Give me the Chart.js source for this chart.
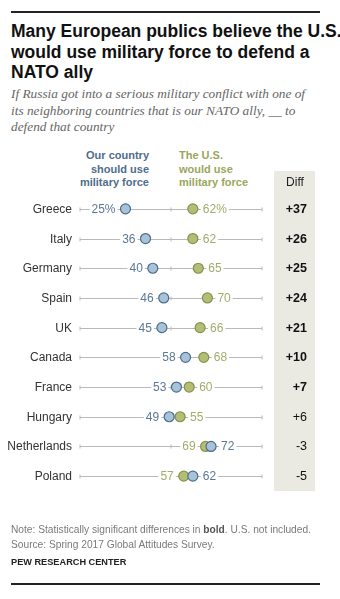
<!DOCTYPE html>
<html lang="en">
<head>
  <meta charset="UTF-8">
  <title>NATO ally defense</title>
  <script src="https://cdn.jsdelivr.net/npm/chart.js"></script>
  <style>
    body { margin: 0; background: #fff; font-family: "Liberation Sans", Arial, sans-serif; }
    #wrap { position: relative; width: 340px; height: 599px; overflow: hidden; }
    #chart { position: absolute; left: 0; top: 0; }
    .rule { position: absolute; left: 11px; width: 309px; height: 2px; background: #222; }
    .txt { position: absolute; white-space: nowrap; }
    #title { left: 11px; top: 21px; font-weight: bold; line-height: 20.5px; color: #111;
      font-family: "Liberation Sans Narrow", "Arial Narrow", "Liberation Sans", sans-serif; font-size: 17.5px; }
    #sub { left: 11px; top: 86px; font-style: italic; font-size: 13.3px; line-height: 16.5px; color: #666;
      font-family: "Liberation Serif", "DejaVu Serif", serif; }
    .head { top: 149px; font-weight: bold; font-size: 11px; line-height: 13.5px; }
    #hOur { right: 191px; text-align: right; color: #4f6d8c; }
    #hUs { left: 179px; color: #9ba65c; }
    #note { left: 11px; top: 522px; font-size: 10.2px; line-height: 15px; color: #7a7a7a; }
    #note b { color: #555; }
    #pew { left: 11px; top: 557px; font-size: 9.2px; font-weight: bold; color: #222; }
  </style>
</head>
<body>
<div id="wrap">
  <div class="rule" style="top:11px"></div>
  <div id="title" class="txt">Many European publics believe the U.S.<br>would use military force to defend a<br>NATO ally</div>
  <div id="sub" class="txt">If Russia got into a serious military conflict with one of<br>its neighboring countries that is our NATO ally, __ to<br>defend that country</div>
  <div id="hOur" class="txt head">Our country<br>should use<br>military force</div>
  <div id="hUs" class="txt head">The U.S.<br>would use<br>military force</div>
  <canvas id="chart" width="340" height="599"></canvas>
  <div id="note" class="txt">Note: Statistically significant differences in <b>bold</b>. U.S. not included.<br>Source: Spring 2017 Global Attitudes Survey.</div>
  <div id="pew" class="txt">PEW RESEARCH CENTER</div>
  <div class="rule" style="top:583px"></div>
</div>
<script>
  const countries = ['Greece', 'Italy', 'Germany', 'Spain', 'UK', 'Canada', 'France', 'Hungary', 'Netherlands', 'Poland'];
  const ourCountry = [25, 36, 40, 46, 45, 58, 53, 49, 72, 62];
  const usWould = [62, 62, 65, 70, 66, 68, 60, 55, 69, 57];
  const diffs = ['+37', '+26', '+25', '+24', '+21', '+10', '+7', '+6', '-3', '-5'];
  const significant = [true, true, true, true, true, true, true, false, false, false];

  const BLUE_FILL = '#a8c3d7', BLUE_LINE = '#4a6d8e', BLUE_TEXT = '#5b7895';
  const GREEN_FILL = '#b4bd76', GREEN_LINE = '#87914a', GREEN_TEXT = '#a3ac6b';
  const FONT = '"Liberation Sans", Arial, sans-serif';

  // rows, ticks, country names, value labels and the diff column
  const dotPlotDecor = {
    id: 'dotPlotDecor',
    beforeDatasetsDraw(chart) {
      const { ctx, chartArea, scales: { x, y } } = chart;
      ctx.save();

      // diff column background
      ctx.fillStyle = '#eae9e2';
      ctx.fillRect(274, 171, 41, chartArea.bottom - 171);
      ctx.fillStyle = '#222';
      ctx.font = '12px ' + FONT;
      ctx.textAlign = 'center';
      ctx.textBaseline = 'middle';
      ctx.fillText('Diff', 295, 183);

      const x0 = x.getPixelForValue(0), x50 = x.getPixelForValue(50), x100 = x.getPixelForValue(100);
      countries.forEach((name, i) => {
        const py = Math.round(y.getPixelForValue(i)) + 0.5;
        ctx.strokeStyle = '#b9b9b9';
        ctx.lineWidth = 1;
        ctx.beginPath();
        ctx.moveTo(x0, py); ctx.lineTo(x100, py);
        [x0, x50, x100].forEach(tx => { ctx.moveTo(tx, py - 2); ctx.lineTo(tx, py + 2); });
        ctx.stroke();

        ctx.font = '12px ' + FONT;
        ctx.fillStyle = '#333';
        ctx.textAlign = 'right';
        ctx.fillText(name, 72, py);

        ctx.font = (significant[i] ? 'bold ' : '') + '12.5px ' + FONT;
        ctx.fillStyle = '#111';
        ctx.fillText(diffs[i], 307, py);

        // value labels sit outside the pair of dots
        const suffix = i === 0 ? '%' : '';
        const a = ourCountry[i], b = usWould[i];
        const labels = [
          { v: a, color: BLUE_TEXT, left: a <= b },
          { v: b, color: GREEN_TEXT, left: b < a }
        ];
        ctx.font = '12px ' + FONT;
        labels.forEach(l => {
          const px = x.getPixelForValue(l.v);
          const t = l.v + suffix;
          const w = ctx.measureText(t).width;
          const tx = l.left ? px - 10 - w : px + 10;
          ctx.fillStyle = '#fff';
          ctx.fillRect(tx - 2, py - 7, w + 4, 14);
          ctx.fillStyle = l.color;
          ctx.textAlign = 'left';
          ctx.fillText(t, tx, py);
        });
      });
      ctx.restore();
    }
  };

  new Chart(document.getElementById('chart'), {
    type: 'scatter',
    data: {
      datasets: [
        {
          label: 'Our country should use military force',
          data: ourCountry.map((v, i) => ({ x: v, y: countries[i] })),
          backgroundColor: BLUE_FILL,
          borderColor: BLUE_LINE,
          borderWidth: 1.2,
          pointRadius: 5,
          pointHoverRadius: 5
        },
        {
          label: 'The U.S. would use military force',
          data: usWould.map((v, i) => ({ x: v, y: countries[i] })),
          backgroundColor: GREEN_FILL,
          borderColor: GREEN_LINE,
          borderWidth: 1.2,
          pointRadius: 5,
          pointHoverRadius: 5
        }
      ]
    },
    options: {
      responsive: false,
      animation: false,
      layout: { padding: { left: 80, right: 78, top: 194, bottom: 108 } },
      plugins: { legend: { display: false }, tooltip: { enabled: false } },
      scales: {
        x: { type: 'linear', min: 0, max: 100, display: false },
        y: { type: 'category', labels: countries, offset: true, display: false }
      }
    },
    plugins: [dotPlotDecor]
  });
</script>
</body>
</html>
